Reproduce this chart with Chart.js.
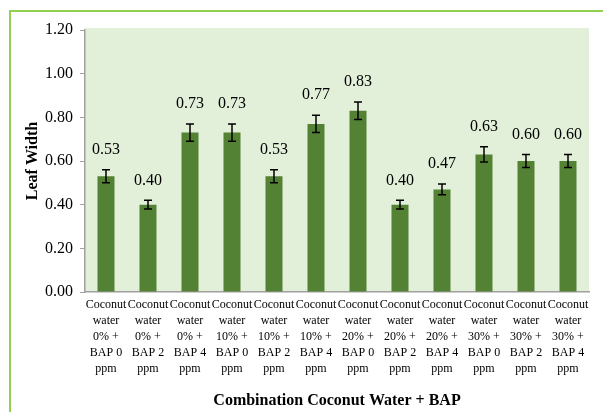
<!DOCTYPE html>
<html>
<head>
<meta charset="utf-8">
<script src="https://cdn.jsdelivr.net/npm/chart.js@4/dist/chart.umd.min.js"></script>
<style>
  html, body { margin: 0; padding: 0; background: #ffffff; }
  #wrap { position: relative; width: 603px; height: 412px; }
</style>
</head>
<body>
<div id="wrap"><canvas id="c" width="603" height="412"></canvas></div>
<script>
const categories = [
  ["Coconut", "water", "0% +", "BAP 0", "ppm"],
  ["Coconut", "water", "0% +", "BAP 2", "ppm"],
  ["Coconut", "water", "0% +", "BAP 4", "ppm"],
  ["Coconut", "water", "10% +", "BAP 0", "ppm"],
  ["Coconut", "water", "10% +", "BAP 2", "ppm"],
  ["Coconut", "water", "10% +", "BAP 4", "ppm"],
  ["Coconut", "water", "20% +", "BAP 0", "ppm"],
  ["Coconut", "water", "20% +", "BAP 2", "ppm"],
  ["Coconut", "water", "20% +", "BAP 4", "ppm"],
  ["Coconut", "water", "30% +", "BAP 0", "ppm"],
  ["Coconut", "water", "30% +", "BAP 2", "ppm"],
  ["Coconut", "water", "30% +", "BAP 4", "ppm"]
];
const leafWidth = [0.53, 0.40, 0.73, 0.73, 0.53, 0.77, 0.83, 0.40, 0.47, 0.63, 0.60, 0.60];
const errorValues = [0.03, 0.02, 0.04, 0.04, 0.03, 0.04, 0.04, 0.02, 0.025, 0.035, 0.03, 0.03];
const yMin = 0, yMax = 1.2, yStep = 0.2;
const yTitle = "Leaf Width";
const xTitle = "Combination Coconut Water + BAP";

const SERIF = "'Liberation Serif', 'Times New Roman', serif";

const framePlugin = {
  id: 'frame',
  beforeDraw(chart) {
    const ctx = chart.ctx, a = chart.chartArea;
    ctx.save();
    ctx.fillStyle = '#ffffff';
    ctx.fillRect(0, 0, chart.width, chart.height);
    ctx.fillStyle = '#e2efd9';
    ctx.fillRect(a.left, a.top - 2, a.right - a.left, a.bottom - a.top + 2);
    ctx.strokeStyle = '#92d050';
    ctx.lineWidth = 2;
    ctx.beginPath();
    ctx.moveTo(10, chart.height);
    ctx.lineTo(10, 11);
    ctx.lineTo(chart.width, 11);
    ctx.stroke();
    ctx.restore();
  }
};

const errorLabelPlugin = {
  id: 'errLabels',
  afterDatasetsDraw(chart) {
    const ctx = chart.ctx;
    const y = chart.scales.y;
    const meta = chart.getDatasetMeta(0);
    ctx.save();
    meta.data.forEach((bar, i) => {
      const v = leafWidth[i], e = errorValues[i];
      const x = bar.x;
      const yTop = y.getPixelForValue(v + e);
      const yBot = y.getPixelForValue(v - e);
      ctx.strokeStyle = '#000000';
      ctx.lineWidth = 1.5;
      ctx.beginPath();
      ctx.moveTo(x, yTop); ctx.lineTo(x, yBot);
      ctx.moveTo(x - 4, yTop); ctx.lineTo(x + 4, yTop);
      ctx.moveTo(x - 4, yBot); ctx.lineTo(x + 4, yBot);
      ctx.stroke();
      ctx.fillStyle = '#000000';
      ctx.font = '16px ' + SERIF;
      ctx.textAlign = 'center';
      ctx.textBaseline = 'middle';
      ctx.fillText(v.toFixed(2), x, yTop - 20);
    });
    ctx.restore();
  }
};

new Chart(document.getElementById('c'), {
  type: 'bar',
  data: {
    labels: categories,
    datasets: [{
      data: leafWidth,
      backgroundColor: '#548235',
      borderWidth: 0,
      categoryPercentage: 1.0,
      barPercentage: 0.405
    }]
  },
  options: {
    responsive: false,
    animation: false,
    devicePixelRatio: 1,
    layout: { padding: { left: 0, right: 14, top: 30, bottom: 0 } },
    plugins: { legend: { display: false }, tooltip: { enabled: false } },
    scales: {
      x: {
        offset: true,
        grid: { display: true, drawOnChartArea: false, drawTicks: false, color: '#a0a0a0' },
        border: { display: true, color: '#a0a0a0', width: 1.5 },
        ticks: {
          color: '#000000', maxRotation: 0, minRotation: 0, autoSkip: false, padding: 5,
          font: { family: SERIF, size: 12, lineHeight: 1.33 }
        },
        title: {
          display: true, text: xTitle, color: '#000000',
          font: { family: SERIF, size: 16, weight: 'bold', lineHeight: 1.2 },
          padding: { top: 0, bottom: 2 }
        },
        afterFit(s) { s.height = 120; }
      },
      y: {
        min: yMin, max: yMax,
        grid: { display: true, drawOnChartArea: false, drawTicks: true, tickLength: 5, color: '#a0a0a0' },
        border: { display: true, color: '#a0a0a0', width: 1.5 },
        ticks: {
          stepSize: yStep, color: '#000000', padding: 7,
          font: { family: SERIF, size: 16 },
          callback: (v) => Number(v).toFixed(2)
        },
        title: {
          display: true, text: yTitle, color: '#000000',
          font: { family: SERIF, size: 16, weight: 'bold', lineHeight: 1.2 },
          padding: { top: 23, bottom: 0 }
        },
        afterFit(s) { s.width = 85; }
      }
    }
  },
  plugins: [framePlugin, errorLabelPlugin]
});
</script>
</body>
</html>
